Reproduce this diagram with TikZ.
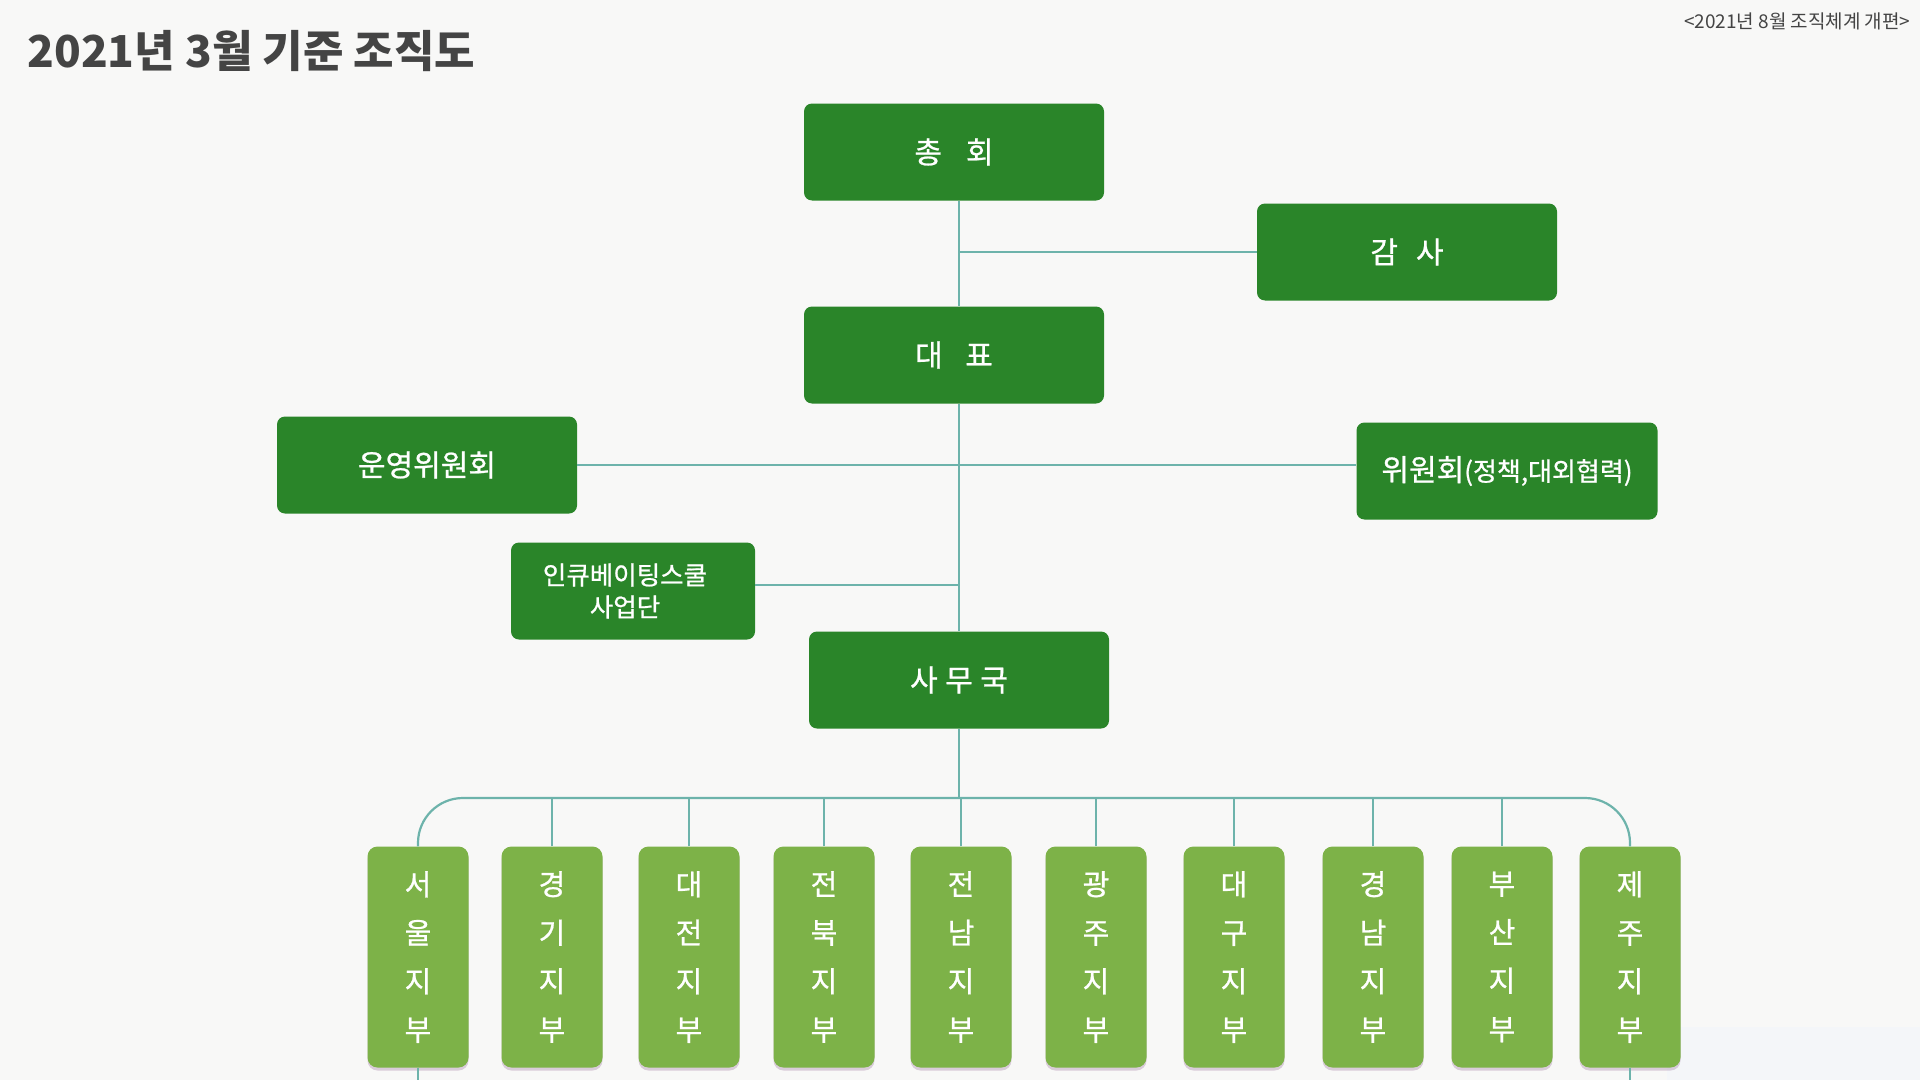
\documentclass[tikz,border=0pt]{standalone}
\usepackage{fontspec}
\setmainfont{Noto Sans CJK KR}
\newfontfamily\medfont{Noto Sans CJK KR}[FakeBold=0.8]
\usetikzlibrary{positioning,shadows}
\definecolor{orgGreen}{HTML}{2A8529}
\definecolor{brGreen}{HTML}{7DB248}
\definecolor{lineTeal}{HTML}{6DB3AB}
\definecolor{pageBg}{HTML}{F8F8F7}
\definecolor{cornerBg}{HTML}{F4F6F9}
\definecolor{titleGray}{HTML}{444444}
\tikzset{
  orgbox/.style={fill=orgGreen, rounded corners=8pt, minimum width=300pt, minimum height=97pt, inner sep=0pt, text=white, align=center, font=\medfont\fontsize{30}{36}\selectfont},
  branch/.style={fill=brGreen, rounded corners=10pt, minimum width=101pt, minimum height=221pt, inner sep=0pt, text=white, align=center, font=\medfont\fontsize{29}{48.5}\selectfont, drop shadow={shadow xshift=0pt, shadow yshift=-3pt, fill=violet!40!gray, opacity=.25}},
  conn/.style={draw=lineTeal, line width=2.2pt},
}
\begin{document}
\begin{tikzpicture}[x=1pt, y=-1pt]
\fill[pageBg] (0,0) rectangle (1920,1080);
\fill[cornerBg] (1667,1027) rectangle (1920,1080);

\node[anchor=west, text=titleGray, font=\fontsize{44}{50}\selectfont\bfseries] (title) at (24,51) {2021년 3월 기준 조직도};
\node[anchor=east, text=titleGray, font=\fontsize{19}{22}\selectfont] (note) at (1914,21) {<2021년 8월 조직체계 개편>};

\node[orgbox] (chonghoe) at (954,152) {총\hspace{.8em}회};
\node[orgbox] (gamsa) at (1407,252) {감\hspace{.6em}사};
\node[orgbox] (daepyo) at (954,355) {대\hspace{.75em}표};
\node[orgbox] (unyeong) at (427,465) {운영위원회};
\node[orgbox, minimum width=301pt] (wiwon) at (1507,471) {위원회{\fontsize{26}{30}\selectfont(정책,대외협력)}};
\node[orgbox, minimum width=244pt, font=\medfont\fontsize{25.5}{32}\selectfont] (incu) at (633,591) {\hspace*{-16pt}인큐베이팅스쿨\\\hspace*{-16pt}사업단};
\node[orgbox] (samu) at (959,680) {사\hspace{.25em}무\hspace{.25em}국};

\node[branch] (seoul) at (418,957) {서\\울\\지\\부};
\node[branch] (gyeonggi) at (552,957) {경\\기\\지\\부};
\node[branch] (daejeon) at (689,957) {대\\전\\지\\부};
\node[branch] (jeonbuk) at (824,957) {전\\북\\지\\부};
\node[branch] (jeonnam) at (961,957) {전\\남\\지\\부};
\node[branch] (gwangju) at (1096,957) {광\\주\\지\\부};
\node[branch] (daegu) at (1234,957) {대\\구\\지\\부};
\node[branch] (gyeongnam) at (1373,957) {경\\남\\지\\부};
\node[branch] (busan) at (1502,957) {부\\산\\지\\부};
\node[branch] (jeju) at (1630,957) {제\\주\\지\\부};

\coordinate (bus) at (959,798);

\draw[conn] (chonghoe.south -| samu.north) -- (daepyo.north -| samu.north);
\draw[conn] (gamsa.west) -- (gamsa.west -| samu.north);
\draw[conn] (daepyo.south -| samu.north) -- (samu.north);
\draw[conn] (unyeong.east) -- (unyeong.east -| wiwon.west);
\draw[conn] ([yshift=6pt]incu.east) -- ([yshift=6pt]incu.east -| samu.north);
\draw[conn] (samu.south) -- (bus);
\draw[conn, rounded corners=45pt] (seoul.north) |- (bus) -| (jeju.north);
\foreach \b in {gyeonggi,daejeon,jeonbuk,jeonnam,gwangju,daegu,gyeongnam,busan}
  \draw[conn] (\b.north) -- (\b.north |- bus);
\draw[conn] (seoul.south) -- (seoul.south |- 0,1080);
\draw[conn] (jeju.south) -- (jeju.south |- 0,1080);
\end{tikzpicture}
\end{document}
